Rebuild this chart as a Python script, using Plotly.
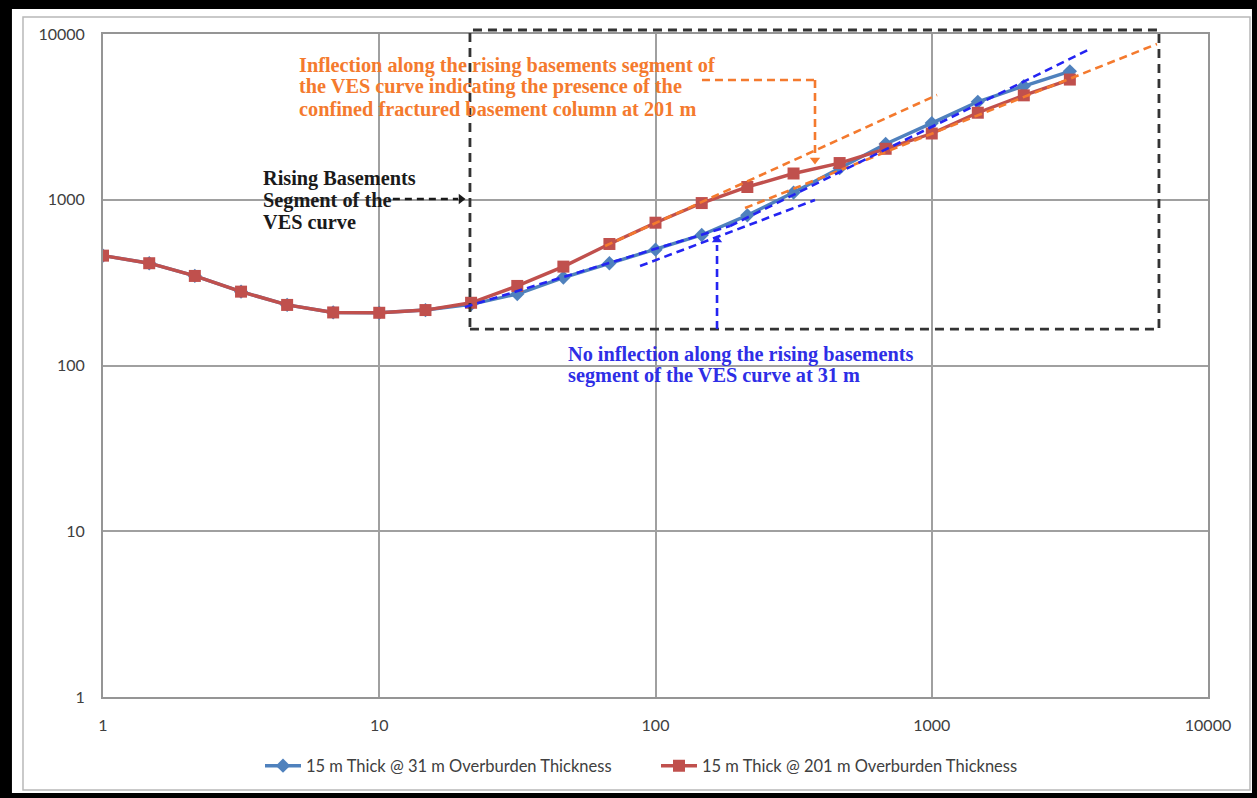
import plotly.graph_objects as go

# Electrode spacing AB/2 (m), six readings per decade
spacing = [1, 1.47, 2.15, 3.16, 4.64, 6.81, 10, 14.7, 21.5, 31.6, 46.4, 68.1,
           100, 147, 215, 316, 464, 681, 1000, 1468, 2154, 3162]

# Apparent resistivity (ohm-m) for the two model curves
rho_31m = [460, 414, 347, 279, 232, 209, 208, 216, 234, 270, 339, 414,
           500, 613, 805, 1105, 1550, 2170, 2900, 3900, 4850, 5950]
rho_201m = [460, 414, 347, 279, 232, 209, 208, 216, 239, 302, 395, 541,
            727, 955, 1194, 1440, 1665, 2030, 2510, 3350, 4265, 5310]

name_31m = "15 m Thick @ 31 m Overburden Thickness"
name_201m = "15 m Thick @ 201 m Overburden Thickness"

tick_vals = [1, 10, 100, 1000, 10000]
tick_text = ["1", "10", "100", "1000", "10000"]

BLUE = "#4F81BD"
RED = "#C0504D"
ORANGE = "#F47A2E"
DASH_BLUE = "#2424F2"
TEXT_BLUE = "#2E2EE6"
FRAME = "#333333"

fig = go.Figure()

fig.add_trace(go.Scatter(
    x=spacing, y=rho_31m, name=name_31m, mode="lines+markers",
    line=dict(color=BLUE, width=3.4),
    marker=dict(symbol="diamond", size=11, color=BLUE),
))
fig.add_trace(go.Scatter(
    x=spacing, y=rho_201m, name=name_201m, mode="lines+markers",
    line=dict(color=RED, width=3.4),
    marker=dict(symbol="square", size=12, color=RED),
))

shapes = []

# page frame: white card on a black surround, with a thin grey chart border
shapes.append(dict(type="rect", xref="paper", yref="paper", layer="below",
                   x0=-0.0824, x1=1.0398, y0=-0.1448, y1=1.0377,
                   fillcolor="white", line=dict(width=0)))
shapes.append(dict(type="rect", xref="paper", yref="paper", layer="below",
                   x0=-0.0724, x1=1.0380, y0=-0.1403, y1=1.0256,
                   line=dict(color="#B8B8B8", width=1.5)))

# box around the rising basement segment
shapes.append(dict(type="rect", xref="x", yref="paper", layer="above",
                   x0=21.3, x1=6645, y0=0.555, y1=1.006,
                   line=dict(color=FRAME, width=2.8, dash="9px,6px")))


def dashed(x0, y0, x1, y1, color, width=2.6, dash="8px,5px"):
    shapes.append(dict(type="line", xref="x", yref="y", layer="above",
                       x0=x0, y0=y0, x1=x1, y1=y1,
                       line=dict(color=color, width=width, dash=dash)))


# tangents on the 201 m curve
dashed(65.7, 526, 1045, 4285, ORANGE)
dashed(210.9, 891, 6535, 8706, ORANGE)
# tangents on the 31 m curve
dashed(20.4, 225, 186.1, 694, DASH_BLUE)
dashed(186.1, 694, 3740, 8120, DASH_BLUE)
dashed(87.9, 398, 377.8, 996, DASH_BLUE)

# leader lines for the labels
dashed(11.2, 1010, 19.3, 1010, "#1A1A1A", dash="7px,5px")
dashed(147.3, 5279, 377.9, 5279, ORANGE)
dashed(377.9, 5279, 377.9, 1862, ORANGE)
dashed(167, 166, 167, 533, DASH_BLUE)

# arrow heads
fig.add_trace(go.Scatter(
    x=[19.77, 377.9, 167], y=[1010, 1738, 572], mode="markers",
    marker=dict(symbol=["triangle-right", "triangle-down", "triangle-up"],
                size=9, color=["#1A1A1A", ORANGE, DASH_BLUE]),
    showlegend=False, hoverinfo="skip",
))

SERIF = "Liberation Serif"


def label(lines, x, ys, color):
    out = []
    for txt, y in zip(lines, ys):
        out.append(dict(xref="paper", yref="paper", x=x, y=y, text="<b>%s</b>" % txt,
                        showarrow=False, xanchor="left", yanchor="middle",
                        font=dict(family=SERIF, size=20.3, color=color)))
    return out


annotations = []
annotations += label(["Inflection along the rising basements segment of",
                      "the VES curve indicating the presence of the",
                      "confined fractured basement column at 201 m"],
                     0.1756, [0.9532, 0.9201, 0.8869], ORANGE)
annotations += label(["Rising Basements", "Segment of the", "VES curve"],
                     0.1430, [0.7828, 0.7496, 0.7164], "#1A1A1A")
annotations += label(["No inflection along the rising basements",
                      "segment of the VES curve at 31 m"],
                     0.4190, [0.5173, 0.4842], TEXT_BLUE)

axis_common = dict(
    type="log", range=[0, 4], tickvals=tick_vals, ticktext=tick_text,
    showgrid=True, gridcolor="#A0A0A0", gridwidth=1.5,
    showline=True, linecolor="#959595", linewidth=2, mirror=True,
    zeroline=False, ticks="",
    tickfont=dict(family="Lato", size=16, color="#404040"),
)

fig.update_layout(
    width=1257, height=798,
    margin=dict(l=103, r=49, t=34, b=101, autoexpand=False),
    paper_bgcolor="black", plot_bgcolor="white",
    xaxis=dict(axis_common, ticklabelstandoff=13),
    yaxis=dict(axis_common, ticklabelstandoff=13),
    shapes=shapes, annotations=annotations,
    legend=dict(orientation="h", x=(260 - 103) / 1105, xanchor="left",
                y=-0.104, yanchor="middle", entrywidth=345, entrywidthmode="pixels",
                itemwidth=36,
                font=dict(family="Lato", size=16.5, color="#404040"),
                bgcolor="rgba(0,0,0,0)"),
    showlegend=True,
)

fig.write_html("out.html")
